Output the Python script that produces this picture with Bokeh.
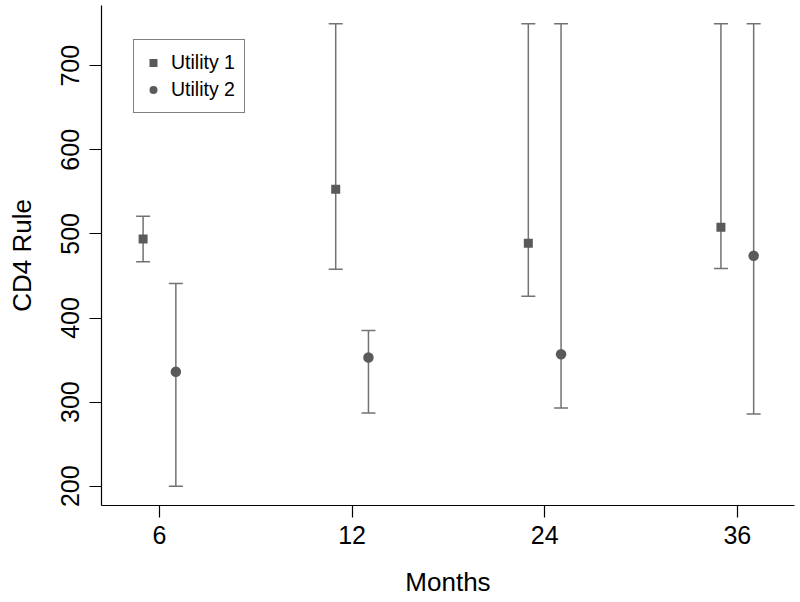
from bokeh.plotting import figure
from bokeh.models import ColumnDataSource, FixedTicker, Range1d, Legend, LegendItem
from bokeh.transform import dodge
from bokeh.embed import file_html
from bokeh.resources import INLINE

# ---- data ----
months = ["6", "12", "24", "36"]
u1_mean = [494, 553, 489, 508]
u1_lower = [467, 458, 426, 459]
u1_upper = [521, 750, 750, 750]
u2_mean = [336, 353, 357, 474]
u2_lower = [200, 287, 293, 286]
u2_upper = [441, 385, 750, 750]
y_ticks = [200, 300, 400, 500, 600, 700]

xpos = list(range(1, len(months) + 1))
src1 = ColumnDataSource(dict(x=xpos, m=u1_mean, lo=u1_lower, hi=u1_upper))
src2 = ColumnDataSource(dict(x=xpos, m=u2_mean, lo=u2_lower, hi=u2_upper))

FONT = "Liberation Sans"
BAR = "#727272"
MK = "#5a5a5a"

p = figure(width=800, height=602, output_backend="svg", toolbar_location=None,
           x_range=Range1d(0.699, 4.297), y_range=Range1d(177.05, 771.6),
           min_border_left=101, min_border_right=6, min_border_top=5,
           min_border_bottom=97)
p.outline_line_color = None
p.xgrid.visible = False
p.ygrid.visible = False
p.background_fill_color = "white"
p.border_fill_color = "white"

OFF = 0.085
for src, off in ((src1, -OFF), (src2, OFF)):
    xd = dodge("x", off)
    p.segment(x0=xd, y0="lo", x1=xd, y1="hi", source=src, line_color=BAR, line_width=1.5)
    p.scatter(x=xd, y="lo", source=src, marker="dash", size=14, line_color=BAR, line_width=1.5)
    p.scatter(x=xd, y="hi", source=src, marker="dash", size=14, line_color=BAR, line_width=1.5)

r1 = p.scatter(x=dodge("x", -OFF), y="m", source=src1, marker="square", size=9,
               fill_color=MK, line_color=None)
r2 = p.scatter(x=dodge("x", OFF), y="m", source=src2, marker="circle", size=10.5,
               fill_color=MK, line_color=None)

# axes
xa = p.xaxis[0]
xa.ticker = FixedTicker(ticks=xpos)
xa.major_label_overrides = {i: m for i, m in zip(xpos, months)}
xa.axis_label = "Months"
ya = p.yaxis[0]
ya.ticker = FixedTicker(ticks=y_ticks)
ya.axis_label = "CD4 Rule"
ya.major_label_orientation = "vertical"

for ax in (xa, ya):
    ax.axis_line_color = "black"
    ax.axis_line_width = 1.2
    ax.major_tick_line_color = "black"
    ax.major_tick_line_width = 1.2
    ax.major_tick_in = 0
    ax.major_tick_out = 12
    ax.minor_tick_line_color = None
    ax.major_label_text_font = FONT
    ax.major_label_text_font_size = "25px"
    ax.major_label_text_color = "black"
    ax.axis_label_text_font = FONT
    ax.axis_label_text_font_size = "26px"
    ax.axis_label_text_font_style = "normal"
    ax.axis_label_text_color = "black"

xa.major_label_standoff = 8
xa.axis_label_standoff = 20
ya.major_label_standoff = 10
ya.axis_label_standoff = 22

legend = Legend(items=[LegendItem(label="Utility 1", renderers=[r1]),
                       LegendItem(label="Utility 2", renderers=[r2])],
                location=(32, 392))
legend.border_line_color = "black"
legend.border_line_width = 1.2
legend.background_fill_color = "white"
legend.background_fill_alpha = 1
legend.label_text_font = FONT
legend.label_text_font_size = "19.5px"
legend.label_text_color = "black"
legend.padding = 9
legend.spacing = 0
legend.margin = 0
legend.glyph_width = 20
legend.glyph_height = 27
legend.label_height = 27
legend.label_standoff = 8
p.add_layout(legend)

open("out.html", "w").write(file_html(p, INLINE))
